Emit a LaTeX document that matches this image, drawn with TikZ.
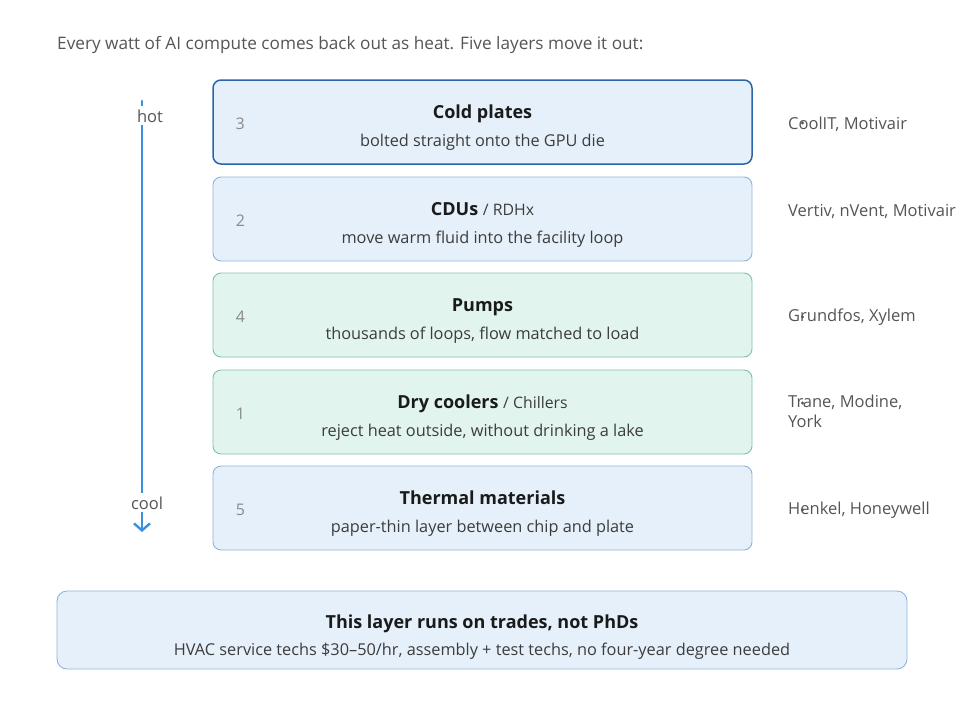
\documentclass[tikz,border=0pt]{standalone}
\usepackage{fontspec}
\setmainfont{Open Sans}
\usetikzlibrary{arrows.meta}

\definecolor{fillBlue}{HTML}{E6F0FA}
\definecolor{edgeBlue}{HTML}{8FB3DD}
\definecolor{edgeDark}{HTML}{2B65A8}
\definecolor{fillGreen}{HTML}{E2F4EE}
\definecolor{edgeGreen}{HTML}{7FC3A6}
\definecolor{arrowBlue}{HTML}{3B8FE3}
\definecolor{inkDark}{HTML}{1A1A1A}
\definecolor{inkMid}{HTML}{3C3C3C}
\definecolor{inkGray}{HTML}{555555}
\definecolor{inkLight}{HTML}{8A8A8A}

\newcommand\sideNote[1]{{\fontsize{15.8}{19}\selectfont\mdseries\color{inkMid}#1}}

\begin{document}
\begin{tikzpicture}
[x=1pt,y=-1pt,
  boxDecorate/.style={rounded corners=8pt,line width=0.9pt,minimum width=539pt,minimum height=84pt},
  layerTop/.style={boxDecorate,draw=edgeDark,fill=fillBlue,line width=1.5pt},
  layerBlue/.style={boxDecorate,draw=edgeBlue,fill=fillBlue},
  layerGreen/.style={boxDecorate,draw=edgeGreen,fill=fillGreen},
  titleDecorate/.style={anchor=base,inner sep=0pt,text=inkDark,font=\fontsize{18}{22}\selectfont\bfseries},
  subDecorate/.style={anchor=base,inner sep=0pt,text=inkMid,font=\fontsize{16.3}{19}\selectfont},
  numDecorate/.style={anchor=base,inner sep=0pt,text=inkLight,font=\fontsize{16}{19}\selectfont},
  vendorDecorate/.style={anchor=base west,inner sep=0pt,text=inkGray,align=left,font=\fontsize{16.5}{20}\selectfont},
  tempDecorate/.style={anchor=base,fill=white,inner xsep=1pt,inner ysep=3pt,text=inkGray,font=\fontsize{16.5}{19}\selectfont}]
\useasboundingbox (0,0) rectangle (980,710);

%% heading
\node (heading) at (57,49) [anchor=base west,inner sep=0pt,text=inkGray,font=\fontsize{17.2}{20}\selectfont]
  {Every watt of AI compute comes back out as heat. Five layers move it out:};

%% hot to cool arrow
\coordinate (hotEnd) at (142,101);
\coordinate (coolEnd) at (142,532);
\draw[arrowBlue,line width=2.8pt,line cap=round,-{Straight Barb[length=7pt,width=16pt,line width=2.4pt]}] (hotEnd) -- (coolEnd);
\node (hot) at (150,122) [tempDecorate] {hot};
\node (cool) at (147,509) [tempDecorate] {cool};

%% the five layers
\foreach \name/\y/\kind/\num/\title/\sub in {
  cold/122/layerTop/3/{Cold plates}/{bolted straight onto the GPU die},
  cdu/219/layerBlue/2/{CDUs \sideNote{/ RDHx}}/{move warm fluid into the facility loop},
  pump/315/layerGreen/4/{Pumps}/{thousands of loops, flow matched to load},
  dry/412/layerGreen/1/{Dry coolers \sideNote{/ Chillers}}/{reject heat outside, without drinking a lake},
  tim/508/layerBlue/5/{Thermal materials}/{paper-thin layer between chip and plate}} {
  \node (\name) at (482.5,\y) [\kind] {};
  \node (\name-num) at ([yshift=-7pt]\name.west) [numDecorate,xshift=28pt] {\num};
  \node (\name-title) at ([yshift=4pt]\name.center) [titleDecorate] {\title};
  \node (\name-sub) at ([yshift=-24pt]\name.center) [subDecorate] {\sub};
}

%% suppliers
\foreach \name/\y/\who in {
  coolit/129/{CoolIT, Motivair},
  vertiv/216/{Vertiv, nVent, Motivair},
  grundfos/321/{Grundfos, Xylem},
  trane/427/{Trane, Modine,\\York},
  henkel/514/{Henkel, Honeywell}} {
  \node (\name) at (788,\y) [vendorDecorate] {\who};
}
\foreach \y in {123,317,403,510} {
  \fill[inkGray] (802.5,\y) circle (1.6pt);
}

%% bottom note
\node (trades) at (482,630) [draw=edgeBlue,fill=fillBlue,rounded corners=10pt,line width=0.9pt,
  minimum width=850pt,minimum height=78pt] {};
\node (trades-title) at ([yshift=2pt]trades.center) [titleDecorate] {This layer runs on trades, not PhDs};
\node (trades-sub) at ([yshift=-25pt]trades.center) [subDecorate]
  {HVAC service techs \$30--50/hr, assembly + test techs, no four-year degree needed};
\end{tikzpicture}
\end{document}
